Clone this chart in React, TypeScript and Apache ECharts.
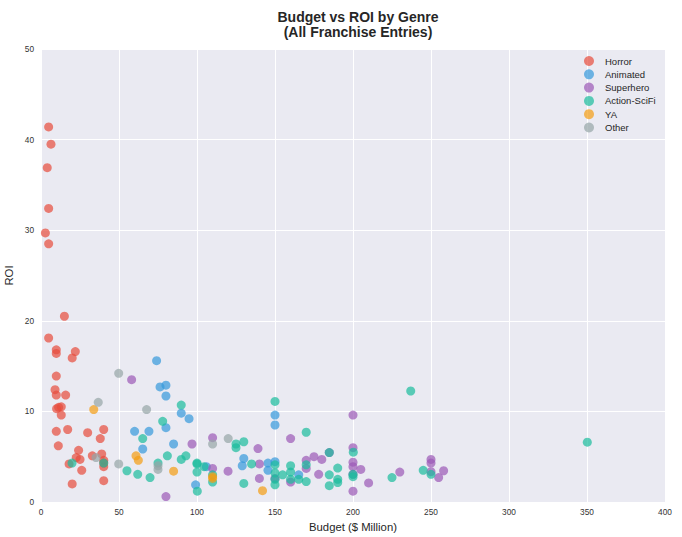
import React, { useEffect, useRef } from "react";
import * as echarts from "echarts";

const genres = ["Horror", "Animated", "Superhero", "Action-SciFi", "YA", "Other"];
const colors = ["#e74c3c", "#3498db", "#9b59b6", "#1abc9c", "#f39c12", "#95a5a6"];

const horror: number[][] = [
  [4.9, 41.4], [6.4, 39.5], [4.0, 36.9], [4.9, 32.4], [2.8, 29.7], [4.9, 28.5],
  [15.0, 20.5], [4.9, 18.1], [9.8, 16.8], [9.8, 16.4], [22.0, 16.6], [20.0, 15.9],
  [9.8, 13.9], [9.0, 12.4], [9.8, 11.8], [15.8, 11.8], [10.0, 10.3], [11.3, 10.45],
  [13.0, 10.5], [13.0, 9.6], [9.8, 7.8], [17.1, 8.0], [29.9, 7.65], [40.2, 8.0],
  [38.0, 7.0], [11.1, 6.2], [24.1, 5.7], [22.6, 4.9], [25.0, 4.7], [18.0, 4.2],
  [32.9, 5.1], [38.9, 5.3], [40.2, 4.6], [40.2, 4.3], [40.2, 3.9], [26.1, 3.5],
  [20.0, 2.0], [40.2, 2.35],
];
const animated: number[][] = [
  [74.1, 15.6], [76.3, 12.7], [80.1, 12.9], [80.1, 11.7], [89.9, 9.8], [94.9, 9.2],
  [60.0, 7.8], [69.2, 7.8], [80.1, 8.2], [65.2, 5.85], [85.0, 6.4], [99.1, 1.9],
  [130.0, 4.8], [129.0, 4.0], [106.0, 3.9], [150.0, 9.6], [150.0, 8.5], [145.5, 4.3],
  [145.5, 3.5], [150.0, 4.45], [165.2, 3.0],
];
const superhero: number[][] = [
  [58.1, 13.5], [96.8, 6.4], [80.1, 0.6], [110.0, 7.1], [110.0, 3.7], [119.9, 3.4],
  [139.1, 5.9], [140.0, 4.2], [140.0, 2.6], [160.0, 7.0], [150.0, 2.6], [160.0, 2.2],
  [170.0, 4.6], [170.0, 3.7], [175.0, 5.0], [180.0, 4.7], [178.0, 3.05], [200.0, 9.6],
  [200.0, 6.0], [200.0, 4.4], [200.0, 3.9], [200.0, 3.05], [200.0, 1.2], [205.0, 3.6],
  [210.0, 2.1], [230.0, 3.3], [250.0, 4.7], [250.0, 4.3], [250.0, 3.35], [254.9, 2.7],
  [258.1, 3.45], [184.8, 5.45],
];
const actionSciFi: number[][] = [
  [19.9, 4.3], [40.2, 4.3], [55.1, 3.45], [62.0, 3.05], [65.2, 7.0], [89.9, 10.7],
  [78.0, 8.9], [69.9, 2.7], [75.0, 4.3], [81.0, 5.1], [89.9, 4.7], [92.9, 5.1],
  [100.0, 4.3], [100.0, 4.2], [100.0, 3.3], [104.5, 3.9], [100.2, 1.2], [110.0, 3.0],
  [110.0, 2.2], [125.0, 6.4], [125.0, 6.0], [130.0, 6.65], [130.0, 2.05], [135.0, 4.2],
  [150.0, 11.1], [150.0, 4.1], [150.0, 3.2], [150.0, 2.5], [150.0, 1.9], [154.9, 3.0],
  [160.0, 4.0], [160.0, 3.3], [160.0, 2.5], [165.2, 2.5], [170.0, 7.7], [170.0, 4.1],
  [170.0, 2.25], [184.8, 5.45], [184.8, 3.0], [184.8, 1.8], [190.2, 3.75], [190.2, 2.5],
  [190.2, 2.15], [200.2, 5.5], [200.0, 3.05], [200.0, 2.8], [237.0, 12.25], [225.0, 2.7],
  [245.0, 3.5], [250.0, 3.05], [350.2, 6.6],
];
const ya: number[][] = [
  [33.8, 10.2], [60.9, 5.1], [62.4, 4.6], [85.0, 3.4], [110.0, 2.8], [110.0, 2.6], [142.0, 1.25],
];
const other: number[][] = [
  [49.8, 14.2], [36.7, 11.0], [67.7, 10.2], [35.3, 4.9], [49.8, 4.2], [75.0, 4.0],
  [75.0, 3.6], [110.0, 6.4], [120.0, 7.0],
];

const seriesData = [horror, animated, superhero, actionSciFi, ya, other];

const xMin = 0, xMax = 400, xStep = 50;
const yMin = 0, yMax = 50, yStep = 10;

export default function App() {
  const ref = useRef<HTMLDivElement>(null);
  useEffect(() => {
    if (!ref.current) return;
    const chart = echarts.init(ref.current, undefined, { renderer: "svg" });
    const font = "Liberation Sans, Arial, sans-serif";
    chart.setOption({
      animation: false,
      backgroundColor: "#ffffff",
      textStyle: { fontFamily: font },
      title: {
        text: "Budget vs ROI by Genre\n(All Franchise Entries)",
        left: 353,
        textAlign: "center",
        top: 4,
        textStyle: { fontSize: 14, fontWeight: "bold", color: "#262626", lineHeight: 15, fontFamily: font },
      },
      legend: {
        orient: "vertical",
        left: 579,
        top: 51,
        itemWidth: 10,
        itemHeight: 10,
        itemGap: 3.3,
        icon: "circle",
        data: genres,
        textStyle: { fontSize: 9.5, color: "#262626", fontFamily: font, padding: [0, 0, 0, 6] },
      },
      grid: {
        left: 41, right: 17, top: 49, bottom: 35, show: true,
        backgroundColor: "#eaeaf2", borderWidth: 0,
        outerBoundsMode: "none", containLabel: false,
      },
      xAxis: {
        type: "value",
        min: xMin,
        max: xMax,
        interval: xStep,
        name: "Budget ($ Million)",
        nameLocation: "middle",
        nameGap: 19,
        nameMoveOverlap: false,
        nameTextStyle: { fontSize: 11.3, color: "#262626", fontFamily: font },
        axisLine: { show: false },
        axisTick: { show: false },
        axisLabel: { fontSize: 8.3, color: "#333333", margin: 6, fontFamily: font },
        splitLine: { show: true, lineStyle: { color: "#ffffff", width: 1 } },
      },
      yAxis: {
        type: "value",
        min: yMin,
        max: yMax,
        interval: yStep,
        name: "ROI",
        nameLocation: "middle",
        nameGap: 27,
        nameMoveOverlap: false,
        nameTextStyle: { fontSize: 11.3, color: "#262626", fontFamily: font },
        axisLine: { show: false },
        axisTick: { show: false },
        axisLabel: { fontSize: 8.3, color: "#333333", margin: 7, fontFamily: font },
        splitLine: { show: true, lineStyle: { color: "#ffffff", width: 1 } },
      },
      series: genres.map((g, i) => ({
        name: g,
        type: "scatter",
        data: seriesData[i],
        symbolSize: 9,
        itemStyle: { color: colors[i], opacity: 0.7 },
      })),
    });
    return () => chart.dispose();
  }, []);
  return <div ref={ref} style={{ width: 682, height: 537, position: "absolute", left: 0, top: 0 }} />;
}
